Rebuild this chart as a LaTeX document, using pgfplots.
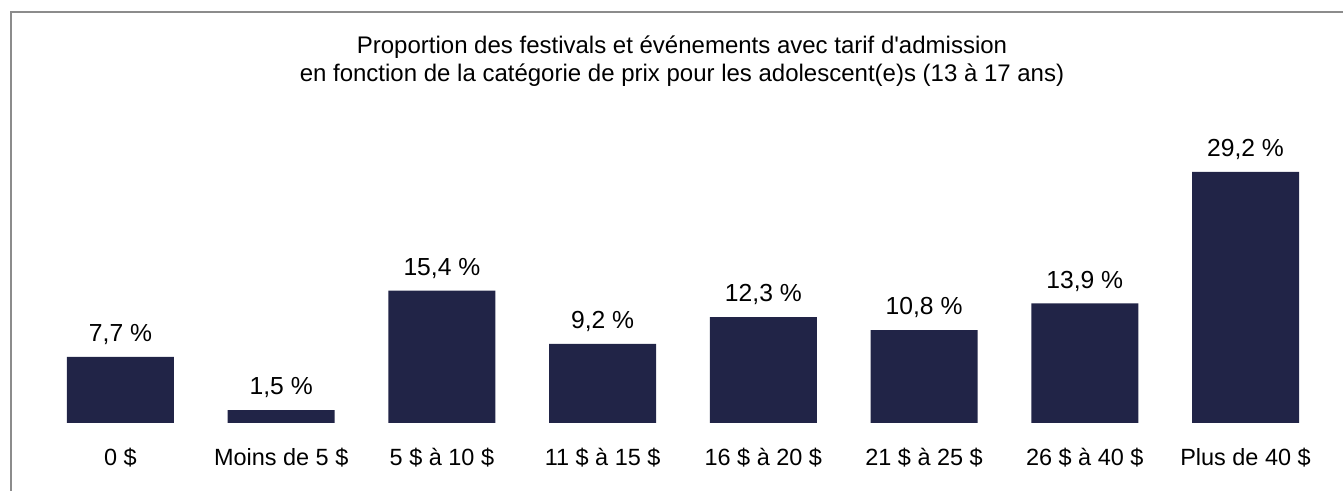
\documentclass[border=0pt]{standalone}
\usepackage{pgfplots}
\pgfplotsset{compat=1.18}
\usepackage{fontspec}
\setmainfont{Liberation Sans}

\definecolor{barblue}{RGB}{33,36,71}
\definecolor{framegray}{RGB}{140,140,140}

\begin{document}
\begin{tikzpicture}[x=1pt,y=1pt]
  % page is 1343 x 491 px at 0.75pt/px
  \useasboundingbox (0,0) rectangle (1007.25,368.25);
  \draw[framegray, line width=1.5pt] (8.25,0) -- (8.25,359.25) -- (1007.25,359.25);

  \node[anchor=base, font=\fontsize{18}{21}\selectfont] at (511.5,327.75)
    {Proportion des festivals et événements avec tarif d\textquotesingle admission};
  \node[anchor=base, font=\fontsize{18}{21}\selectfont] at (511.5,306.75)
    {en fonction de la catégorie de prix pour les adolescent(e)s (13 à 17 ans)};

  \begin{axis}[
      at={(30.1pt,51pt)}, anchor=south west,
      scale only axis,
      width=964.3pt, height=225.75pt,
      ybar, bar width=80.25pt,
      xmin=-0.5, xmax=7.5,
      ymin=0, ymax=35,
      axis line style={draw=none},
      tick style={draw=none},
      ytick=\empty,
      xtick=data,
      xticklabels={0 \$, Moins de 5 \$, 5 \$ à 10 \$, 11 \$ à 15 \$,
                   16 \$ à 20 \$, 21 \$ à 25 \$, 26 \$ à 40 \$, Plus de 40 \$},
      xticklabel style={anchor=base, yshift=-27.5pt, inner sep=0pt,
                        font=\fontsize{17.6}{20}\selectfont},
      clip=false,
      /pgf/number format/assume math mode=true,
      nodes near coords={\pgfmathprintnumber[use comma,fixed,fixed zerofill,precision=1]{\pgfplotspointmeta}~\%},
      nodes near coords style={anchor=base, yshift=11.5pt, inner sep=0pt,
                               font=\fontsize{18.5}{21}\selectfont, text=black},
    ]
    \addplot[fill=barblue, draw=none] coordinates {
      (0,7.7) (1,1.5) (2,15.4) (3,9.2) (4,12.3) (5,10.8) (6,13.9) (7,29.2)
    };
  \end{axis}
\end{tikzpicture}
\end{document}
